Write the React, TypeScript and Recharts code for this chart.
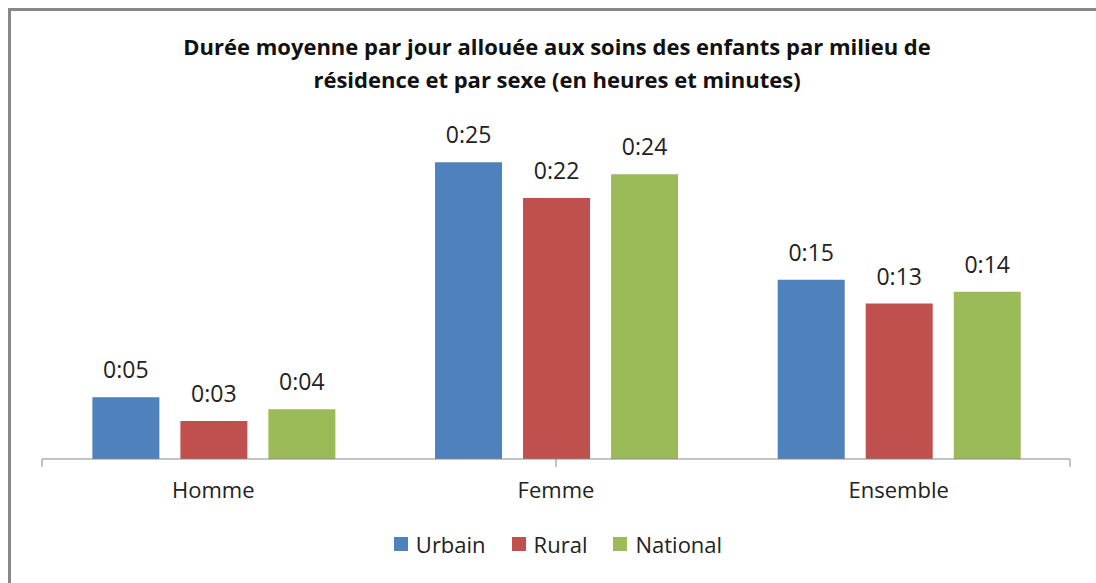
import { BarChart, Bar, XAxis, YAxis, Legend, LabelList } from "recharts";

const categories = ["Homme", "Femme", "Ensemble"];
// minutes per day
const urbain = [5.2, 25.0, 15.1];
const rural = [3.2, 22.0, 13.1];
const national = [4.2, 24.0, 14.1];

const series = [
  { key: "urbain", name: "Urbain", color: "#4F81BD" },
  { key: "rural", name: "Rural", color: "#C0504D" },
  { key: "national", name: "National", color: "#9BBB59" },
];

const data = categories.map((c, i) => ({
  cat: c,
  urbain: urbain[i],
  rural: rural[i],
  national: national[i],
}));

const font = "'Open Sans', sans-serif";

const fmt = (v: any) => "0:" + String(Math.round(Number(v))).padStart(2, "0");

function LegendContent({ payload }: any) {
  const items = series.map((s) => (payload || []).find((p: any) => p.value === s.name) || { value: s.name, color: s.color });
  return (
    <div style={{ display: "flex", justifyContent: "center", gap: 26, fontFamily: font, fontSize: 22, color: "#222" }}>
      {items.map((p: any) => (
        <div key={p.value} style={{ display: "flex", alignItems: "center" }}>
          <span style={{ width: 14, height: 14, background: p.color, display: "inline-block", marginRight: 8 }} />
          <span>{p.value}</span>
        </div>
      ))}
    </div>
  );
}

export default function App() {
  return (
    <div style={{ position: "absolute", left: 0, top: 0, width: 1096, height: 583, overflow: "hidden", background: "#fff" }}>
      <div
        style={{
          position: "absolute", left: 8, top: 8, width: 1200, height: 700,
          borderLeft: "3px solid #888", borderTop: "3px solid #888",
        }}
      />
      <div
        style={{
          position: "absolute", left: 0, top: 30, width: 1114, textAlign: "center",
          fontFamily: font, fontWeight: 700, fontSize: 22, lineHeight: "33px", color: "#111",
        }}
      >
        Durée moyenne par jour allouée aux soins des enfants par milieu de
        <br />
        résidence et par sexe (en heures et minutes)
      </div>
      <div style={{ position: "absolute", left: 0, top: 0 }}>
        <BarChart
          width={1096}
          height={583}
          data={data}
          margin={{ top: 103, right: 26, left: 42, bottom: 84 }}
          barCategoryGap="14.7%"
          barGap={21}
        >
          <XAxis
            xAxisId="b"
            dataKey="cat"
            height={39}
            axisLine={false}
            tickLine={false}
            tickSize={6}
            tickMargin={16}
            tick={{ fontFamily: font, fontSize: 22, fill: "#222" }}
          />
          <XAxis
            xAxisId="a"
            type="number"
            domain={[0, 3]}
            ticks={[0, 1, 2, 3]}
            allowDataOverflow
            height={1}
            tickSize={8}
            tickFormatter={() => ""}
            stroke="#888"
            axisLine={{ stroke: "#888" }}
            tickLine={{ stroke: "#888" }}
          />
          <YAxis hide domain={[0, 30]} />
          <Legend
            verticalAlign="top"
            content={<LegendContent />}
            wrapperStyle={{ position: "absolute", top: 529, left: 0, width: 1116, height: 0, overflow: "visible" }}
          />
          {series.map((s) => (
            <Bar key={s.key} xAxisId="b" dataKey={s.key} name={s.name} fill={s.color} isAnimationActive={false}>
              <LabelList
                dataKey={s.key}
                position="top"
                offset={19}
                formatter={fmt}
                style={{ fontFamily: font, fontSize: 23, fill: "#222" }}
              />
            </Bar>
          ))}
        </BarChart>
      </div>
    </div>
  );
}
